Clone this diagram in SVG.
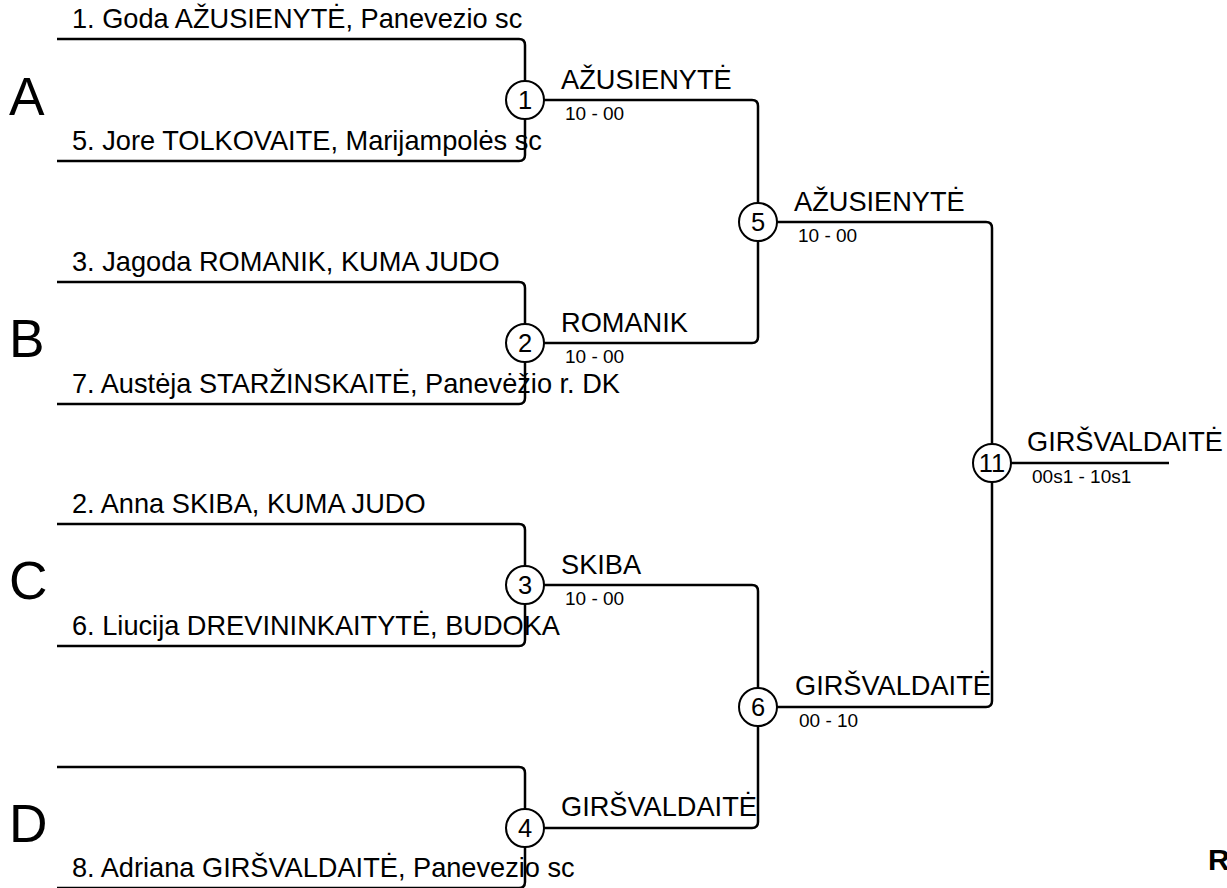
<svg xmlns="http://www.w3.org/2000/svg" width="1227" height="888" viewBox="0 0 1227 888">
<style>
.ln{fill:none;stroke:#000;stroke-width:2.5;stroke-linejoin:round}
.c{fill:#fff;stroke:#000;stroke-width:2}
.t{font-family:"Liberation Sans",Arial,sans-serif;fill:#000}
.nm{font-size:27.2px}
.sc{font-size:19px}
.num{font-size:25.5px;text-anchor:middle}
.pool{font-size:53.3px}
.r{font-size:30px;font-weight:bold}
</style>
<rect width="1227" height="888" fill="#fff"/>
<g id="connectors">
<path class="ln" d="M57,39 H519 Q525,39 525,45 V100 M57,161 H519 Q525,161 525,155 V100"/>
<path class="ln" d="M57,282 H519 Q525,282 525,288 V343 M57,404 H519 Q525,404 525,398 V343"/>
<path class="ln" d="M57,524 H519 Q525,524 525,530 V585 M57,646 H519 Q525,646 525,640 V585"/>
<path class="ln" d="M57,767 H519 Q525,767 525,773 V828 M57,888 H519 Q525,888 525,882 V828"/>
<path class="ln" d="M525,100 H752 Q758,100 758,106 V222 M525,343 H752 Q758,343 758,337 V222"/>
<path class="ln" d="M525,585 H752 Q758,585 758,591 V707 M525,828 H752 Q758,828 758,822 V707"/>
<path class="ln" d="M758,222 H986 Q992,222 992,228 V463 M758,707 H986 Q992,707 992,701 V463"/>
<path class="ln" d="M992,463 H1169"/>
</g>
<g id="poolA"><text class="t pool" x="9" y="115">A</text></g>
<g id="poolB"><text class="t pool" x="9" y="357">B</text></g>
<g id="poolC"><text class="t pool" x="9" y="599">C</text></g>
<g id="poolD"><text class="t pool" x="9" y="842">D</text></g>
<g id="p1"><text class="t nm" x="72" y="28">1. Goda AŽUSIENYTĖ, Panevezio sc</text></g>
<g id="p5"><text class="t nm" x="72" y="150">5. Jore TOLKOVAITE, Marijampolės sc</text></g>
<g id="p3"><text class="t nm" x="72" y="271">3. Jagoda ROMANIK, KUMA JUDO</text></g>
<g id="p7"><text class="t nm" x="72" y="393">7. Austėja STARŽINSKAITĖ, Panevėžio r. DK</text></g>
<g id="p2"><text class="t nm" x="72" y="513">2. Anna SKIBA, KUMA JUDO</text></g>
<g id="p6"><text class="t nm" x="72" y="635">6. Liucija DREVININKAITYTĖ, BUDOKA</text></g>
<g id="p8"><text class="t nm" x="72" y="877">8. Adriana GIRŠVALDAITĖ, Panevezio sc</text></g>
<g id="m1"><circle class="c" cx="525" cy="100" r="19"/><text class="t num" x="525" y="109">1</text>
<text class="t nm" x="561" y="89">AŽUSIENYTĖ</text><text class="t sc" x="565" y="120">10 - 00</text></g>
<g id="m2"><circle class="c" cx="525" cy="343" r="19"/><text class="t num" x="525" y="352">2</text>
<text class="t nm" x="561" y="332">ROMANIK</text><text class="t sc" x="565" y="363">10 - 00</text></g>
<g id="m3"><circle class="c" cx="525" cy="585" r="19"/><text class="t num" x="525" y="594">3</text>
<text class="t nm" x="561" y="574">SKIBA</text><text class="t sc" x="565" y="605">10 - 00</text></g>
<g id="m4"><circle class="c" cx="525" cy="828" r="19"/><text class="t num" x="525" y="837">4</text>
<text class="t nm" x="561" y="816">GIRŠVALDAITĖ</text></g>
<g id="m5"><circle class="c" cx="758" cy="222" r="19"/><text class="t num" x="758" y="231">5</text>
<text class="t nm" x="794" y="211">AŽUSIENYTĖ</text><text class="t sc" x="798" y="242">10 - 00</text></g>
<g id="m6"><circle class="c" cx="758" cy="707" r="19"/><text class="t num" x="758" y="716">6</text>
<text class="t nm" x="795" y="695">GIRŠVALDAITĖ</text><text class="t sc" x="799" y="727">00 - 10</text></g>
<g id="m11"><circle class="c" cx="992" cy="463" r="19"/><text class="t num" x="992" y="472">11</text>
<text class="t nm" x="1027" y="451">GIRŠVALDAITĖ</text><text class="t sc" x="1032" y="483">00s1 - 10s1</text></g>
<g id="label-r"><text class="t r" x="1208" y="870">R</text></g>
</svg>
